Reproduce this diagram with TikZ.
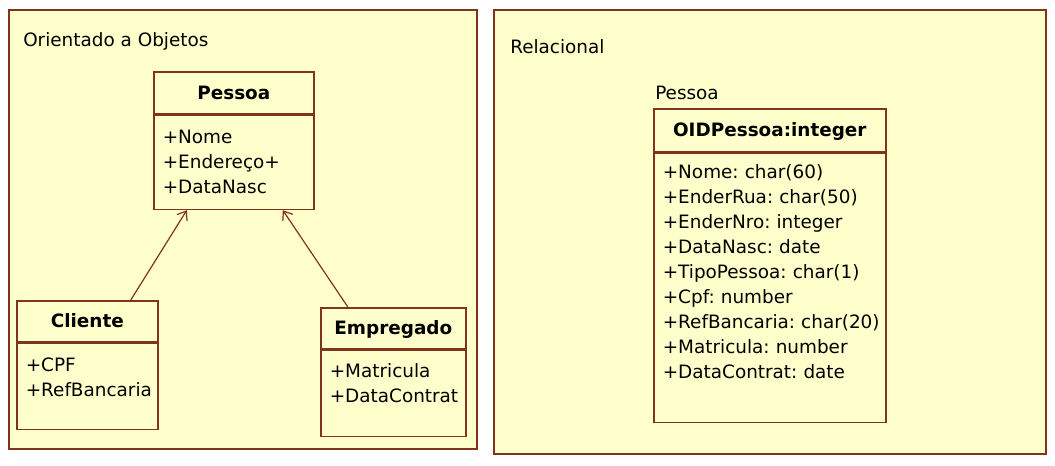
\documentclass[tikz,border=0pt]{standalone}
\usepackage{fontspec}
\setmainfont{DejaVu Sans}
\usetikzlibrary{positioning,arrows.meta}

\definecolor{umlfill}{RGB}{255,255,204}
\definecolor{umlline}{RGB}{128,52,28}
\newcommand{\umlsize}{\fontsize{13.8}{18.75}\selectfont}

\tikzset{
	panel/.style={draw=umlline, fill=umlfill, line width=1.2pt},
	paneltitle/.style={anchor=base west, inner sep=0pt, font=\umlsize},
	classhead/.style={draw=umlline, fill=umlfill, line width=1.2pt, anchor=north west,
		inner sep=0pt, text height=10pt, text depth=0pt, font=\umlsize\bfseries},
	classattrs/.style={draw=umlline, fill=umlfill, line width=1.2pt, align=left,
		inner xsep=6.75pt, inner ysep=0pt, font=\umlsize},
	inherit/.style={draw=umlline, line width=0.9pt, -{Straight Barb[length=6pt,width=9pt]}}
}

\begin{document}
\begin{tikzpicture}[x=0.75pt, y=-0.75pt]
	\useasboundingbox (0,0) rectangle (1055,465);
	% the two panels
	\draw[panel] (9,10) rectangle (477,449);
	\draw[panel] (494,10) rectangle (1046,454);
	\node[paneltitle] (oo) at (23,46) {Orientado a Objetos};
	\node[paneltitle] (rel) at (510,53) {Relacional};

	% object model
	\node[classhead, minimum width=120pt, minimum height=31.5pt] (pessoa) at (153,71) {Pessoa};
	\node[classattrs, text width=106.5pt, text height=21.4pt, text depth=49.1pt,
		below right=0pt and 0pt of pessoa.south west] (pessoaattrs)
		{+Nome\\+Endereço+\\+DataNasc};

	\node[classhead, minimum width=105.75pt, minimum height=30.75pt] (cliente) at (16,300) {Cliente};
	\node[classattrs, text width=92.25pt, text height=21.4pt, text depth=43.1pt,
		below right=0pt and 0pt of cliente.south west] (clienteattrs)
		{+CPF\\+RefBancaria};

	\node[classhead, minimum width=108.75pt, minimum height=30.75pt] (empregado) at (320,307) {Empregado};
	\node[classattrs, text width=95.25pt, text height=20.6pt, text depth=43.9pt,
		below right=0pt and 0pt of empregado.south west] (empregadoattrs)
		{+Matricula\\+DataContrat};

	\draw[inherit] ([xshift=32.6pt]cliente.north) -- ([xshift=-35.25pt]pessoaattrs.south);
	\draw[inherit] ([xshift=-34.1pt]empregado.north) -- ([xshift=36.75pt]pessoaattrs.south);

	% relational table
	\node[paneltitle] (tabname) at (655,99) {Pessoa};
	\node[classhead, minimum width=174pt, minimum height=32.25pt] (oid) at (653,108) {OIDPessoa:integer};
	\node[classattrs, text width=160.5pt, text height=19.1pt, text depth=182.6pt,
		below right=0pt and 0pt of oid.south west] (tabattrs)
		{+Nome:~char(60)\\+EnderRua:~char(50)\\+EnderNro:~integer\\+DataNasc:~date\\
		+TipoPessoa:~char(1)\\+Cpf:~number\\+RefBancaria:~char(20)\\+Matricula:~number\\
		+DataContrat:~date};
\end{tikzpicture}
\end{document}
